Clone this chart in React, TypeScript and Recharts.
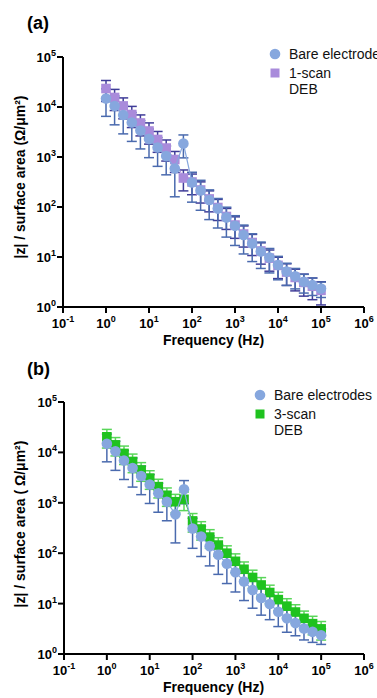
import React from 'react';
import { ScatterChart, Scatter, XAxis, YAxis, ErrorBar, Legend } from 'recharts';

const FONT = '"Liberation Sans", Arial, Helvetica, sans-serif';

// Frequencies (Hz), 5 points per decade
const freqs = [1, 1.585, 2.512, 3.981, 6.31, 10, 15.85, 25.12, 39.81, 63.1, 100, 158.5, 251.2, 398.1, 631, 1000, 1585, 2512, 3981, 6310, 10000, 15850, 25120, 39810, 63100, 100000];

// Bare electrodes: |z|/area and SD
const bareVals = [14800, 10500, 6900, 4900, 3400, 2300, 1550, 1050, 590, 1860, 310, 214, 138, 93, 62, 42, 27.5, 18.6, 12.9, 9.8, 6.9, 5.1, 4.1, 3.2, 2.75, 2.35];
const bareErr = [8300, 6100, 4000, 2850, 1950, 1330, 900, 610, 430, 900, 185, 128, 82, 55, 37, 25, 16, 10.5, 7, 5, 3.4, 2.4, 1.8, 1.3, 1.05, 0.8];

// 1-scan DEB
const scan1Vals = [23400, 15500, 10500, 7080, 4790, 3310, 2240, 1510, 890, 380, 316, 219, 145, 97.7, 64.6, 43.6, 28.8, 19.5, 13.2, 9.5, 6.8, 5.0, 3.9, 3.1, 2.6, 2.15];
const scan1Err = [10500, 7000, 4700, 3200, 2150, 1500, 1000, 680, 400, 170, 140, 99, 65, 44, 29, 20, 13, 8.8, 6, 4.3, 3.1, 2.3, 1.8, 1.45, 1.2, 1.05];

// 3-scan DEB
const scan3Vals = [20400, 14100, 9550, 6610, 4470, 3090, 2090, 1410, 1050, 1170, 437, 302, 209, 145, 100, 69, 48, 33, 23.4, 16.6, 12.0, 8.9, 6.8, 5.1, 4.0, 3.15];
const scan3Err = [8200, 5600, 3800, 2650, 1800, 1240, 840, 560, 420, 470, 175, 120, 84, 58, 40, 28, 19, 13, 9.4, 6.6, 4.8, 3.6, 2.7, 2.0, 1.6, 1.26];

const xTicks = [0.1, 1, 10, 100, 1000, 10000, 100000, 1000000];
const yTicks = [1, 10, 100, 1000, 10000, 100000];

const xLabel = 'Frequency (Hz)';
const yLabelA = '|z| / surface area (Ω/μm²)';
const yLabelB = '|z| / surface area ( Ω/μm²)';

const legendA = [
  { name: 'Bare electrodes', lines: ['Bare electrodes'], shape: 'circle', color: '#86a7de' },
  { name: '1-scan DEB', lines: ['1-scan', 'DEB'], shape: 'square', color: '#a98bdb' },
];
const legendB = [
  { name: 'Bare electrodes', lines: ['Bare electrodes'], shape: 'circle', color: '#86a7de' },
  { name: '3-scan DEB', lines: ['3-scan', 'DEB'], shape: 'square', color: '#1fc21f' },
];

const rows = (vals: number[], errs: number[]) => freqs.map((f, i) => ({ f, v: vals[i], e: errs[i] }));

const bareData = rows(bareVals, bareErr);
const scan1Data = rows(scan1Vals, scan1Err);
const scan3Data = rows(scan3Vals, scan3Err);

const XTick = (props: any) => {
  const { x, y, payload } = props;
  const e = Math.round(Math.log10(payload.value));
  return (
    <text x={x} y={y + 13} textAnchor="middle" fontFamily={FONT} fontWeight="bold" fontSize={13} fill="#000">
      10<tspan dy={-6} fontSize={9}>{e}</tspan>
    </text>
  );
};

const YTick = (props: any) => {
  const { x, y, payload } = props;
  const e = Math.round(Math.log10(payload.value));
  return (
    <text x={x + 1} y={y + 5} textAnchor="end" fontFamily={FONT} fontWeight="bold" fontSize={13} fill="#000">
      10<tspan dy={-6} fontSize={9}>{e}</tspan>
    </text>
  );
};

const circleShape = (color: string) => (p: any) => <circle cx={p.cx} cy={p.cy} r={5.3} fill={color} />;
const squareShape = (color: string) => (p: any) => <rect x={p.cx - 4.8} y={p.cy - 4.8} width={9.6} height={9.6} fill={color} />;

const LegendBox = (items: typeof legendA, left: number, top: number) => () => (
  <div style={{ position: 'absolute', left, top, fontFamily: FONT, fontSize: 14, color: '#111', whiteSpace: 'nowrap' }}>
    {items.map((it, i) => (
      <div key={it.name} style={{ display: 'flex', alignItems: 'flex-start', marginBottom: i === 0 ? 3 : 0 }}>
        <svg width={20} height={16} style={{ flex: 'none' }}>
          {it.shape === 'circle' ? (
            <circle cx={6} cy={8} r={5.3} fill={it.color} />
          ) : (
            <rect x={1.5} y={3.5} width={9} height={9} fill={it.color} />
          )}
        </svg>
        <div style={{ lineHeight: '16px' }}>
          {it.lines.map((l) => (
            <div key={l}>{l}</div>
          ))}
        </div>
      </div>
    ))}
  </div>
);

interface PanelProps {
  other: { f: number; v: number; e: number }[];
  otherColor: string;
  otherErrColor: string;
  legend: typeof legendA;
  legendLeft: number;
  legendTop: number;
  yLabel: string;
  yLabelY: number;
  yAxisWidth: number;
  height: number;
}

const Panel = (p: PanelProps) => (
  <ScatterChart width={377} height={p.height} margin={{ top: 57, right: 13, left: 0, bottom: 0 }}>
    <XAxis
      type="number"
      dataKey="f"
      scale="log"
      domain={[0.1, 1000000]}
      ticks={xTicks}
      allowDataOverflow
      height={43}
      tick={<XTick />}
      tickSize={6}
      axisLine={{ stroke: '#000', strokeWidth: 2 }}
      tickLine={{ stroke: '#000', strokeWidth: 2 }}
      interval={0}
      label={{
        content: () => (
          <text x={213.5} y={p.height - 5} textAnchor="middle" fontFamily={FONT} fontWeight="bold" fontSize={14} fill="#000">
            {xLabel}
          </text>
        ),
      }}
    />
    <YAxis
      type="number"
      dataKey="v"
      scale="log"
      domain={[1, 100000]}
      ticks={yTicks}
      allowDataOverflow
      width={p.yAxisWidth}
      tick={<YTick />}
      tickSize={6}
      axisLine={{ stroke: '#000', strokeWidth: 2 }}
      tickLine={{ stroke: '#000', strokeWidth: 2 }}
      interval={0}
      label={{
        content: () => (
          <text
            x={25}
            y={p.yLabelY}
            textAnchor="middle"
            transform={`rotate(-90, 25, ${p.yLabelY})`}
            fontFamily={FONT}
            fontWeight="bold"
            fontSize={14}
            fill="#000"
          >
            {p.yLabel}
          </text>
        ),
      }}
    />
    <Legend
      layout="horizontal"
      verticalAlign="middle"
      align="center"
      wrapperStyle={{ position: 'absolute', left: 0, top: 0, width: 0, height: 0 }}
      content={LegendBox(p.legend, p.legendLeft, p.legendTop)}
    />
    <Scatter
      name={p.legend[1].name}
      data={p.other}
      isAnimationActive={false}
      shape={squareShape(p.otherColor)}
      line={{ stroke: p.otherColor, strokeWidth: 1 }}
      legendType="square"
    >
      <ErrorBar dataKey="e" direction="y" width={5} stroke={p.otherErrColor} strokeWidth={1.5} />
    </Scatter>
    <Scatter
      name="Bare electrodes"
      data={bareData}
      isAnimationActive={false}
      shape={circleShape('#86a7de')}
      line={{ stroke: '#86a7de', strokeWidth: 1.2 }}
      legendType="circle"
    >
      <ErrorBar dataKey="e" direction="y" width={5} stroke="#4a6aae" strokeWidth={1.5} />
    </Scatter>
  </ScatterChart>
);

export default function App() {
  return (
    <div style={{ position: 'absolute', left: 0, top: 0, width: 377, height: 698, overflow: 'hidden', background: '#fff' }}>
      <div style={{ position: 'absolute', left: 27, top: 13, fontFamily: FONT, fontWeight: 'bold', fontSize: 18 }}>(a)</div>
      <div style={{ position: 'absolute', left: 27, top: 359, fontFamily: FONT, fontWeight: 'bold', fontSize: 18 }}>(b)</div>
      <div style={{ position: 'absolute', left: 0, top: 0 }}>
        <Panel
          other={scan1Data}
          otherColor="#a98bdb"
          otherErrColor="#3f3c98"
          legend={legendA}
          legendLeft={269}
          legendTop={46}
          yLabel={yLabelA}
          yLabelY={177}
          yAxisWidth={63}
          height={350}
        />
      </div>
      <div style={{ position: 'absolute', left: 0, top: 345 }}>
        <Panel
          other={scan3Data}
          otherColor="#1fc21f"
          otherErrColor="#5ad65a"
          legend={legendB}
          legendLeft={254}
          legendTop={42}
          yLabel={yLabelB}
          yLabelY={179}
          yAxisWidth={64}
          height={352}
        />
      </div>
    </div>
  );
}
